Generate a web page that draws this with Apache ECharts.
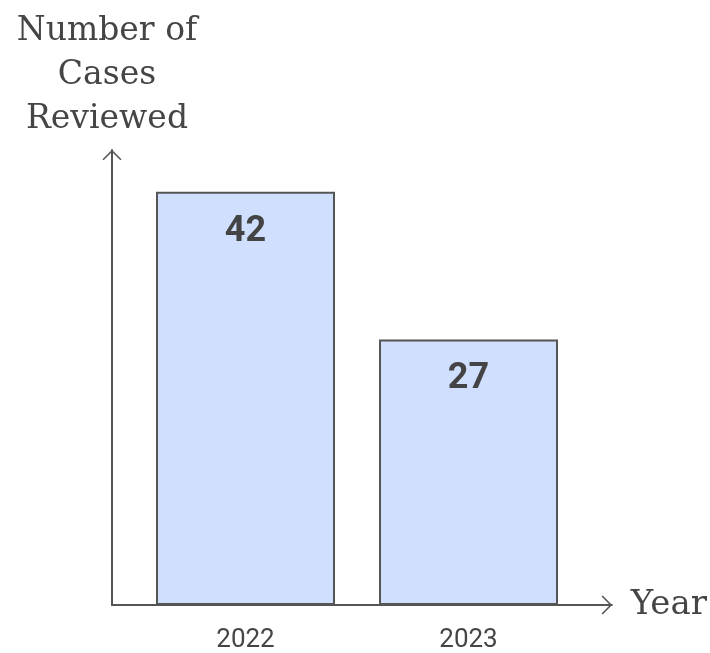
<!DOCTYPE html>
<html>
<head>
<meta charset="utf-8">
<script src="https://cdn.jsdelivr.net/npm/echarts@6/dist/echarts.min.js"></script>
<style>html,body{margin:0;padding:0;background:#fff;}#c{width:710px;height:653px;}</style>
</head>
<body>
<div id="c"></div>
<script>
const categories = ['2022', '2023'];
const casesReviewed = [42, 27];
const yAxisTitle = 'Number of\nCases\nReviewed';
const xAxisTitle = 'Year';

const chart = echarts.init(document.getElementById('c'), null, {renderer: 'canvas'});
const axisColor = '#555555';
const textColor = '#454545';
const chevron = 'path://M9.5 0 L19 9.5 L17.9 10.6 L9.5 2.2 L1.1 10.6 L0 9.5 Z';
const slab = '"DejaVu Serif", serif';
const yMax = 46.25;

chart.setOption({
  animation: false,
  grid: [
    {left: 112, right: 98, top: 150, bottom: 48},
    {left: 134, right: 130, top: 150, bottom: 46}
  ],
  xAxis: [
    {
      gridIndex: 0, type: 'value', min: 0, max: 1,
      axisLine: {show: true, lineStyle: {color: axisColor, width: 2}, symbol: ['none', chevron], symbolSize: [19, 10.6], symbolOffset: [0, -5]},
      axisTick: {show: false}, axisLabel: {show: false}, splitLine: {show: false},
      name: xAxisTitle, nameLocation: 'end', nameGap: 19,
      nameTextStyle: {fontFamily: slab, fontSize: 34, color: textColor, verticalAlign: 'middle', padding: [18, 0, 0, 0]}
    },
    {
      gridIndex: 1, type: 'category', data: categories,
      axisLine: {show: false}, axisTick: {show: false}, splitLine: {show: false},
      axisLabel: {color: textColor, fontFamily: 'Roboto', fontSize: 26, margin: 22}
    }
  ],
  yAxis: [
    {
      gridIndex: 0, type: 'value', min: 0, max: 1,
      axisLine: {show: true, lineStyle: {color: axisColor, width: 2}, symbol: ['none', chevron], symbolSize: [19, 10.6], symbolOffset: [0, -5]},
      axisTick: {show: false}, axisLabel: {show: false}, splitLine: {show: false},
      name: yAxisTitle, nameLocation: 'end', nameGap: 9,
      nameTextStyle: {fontFamily: slab, fontSize: 33, color: textColor, align: 'center', verticalAlign: 'bottom', lineHeight: 44, padding: [0, 10, 0, 0]}
    },
    {
      gridIndex: 1, type: 'value', min: 0, max: yMax,
      axisLine: {show: false}, axisTick: {show: false}, axisLabel: {show: false}, splitLine: {show: false}
    }
  ],
  series: [{
    type: 'bar',
    xAxisIndex: 1, yAxisIndex: 1,
    data: casesReviewed,
    barWidth: 179,
    itemStyle: {color: '#cfdffd', borderColor: axisColor, borderWidth: 2},
    label: {
      show: true, position: 'insideTop', distance: 22,
      fontFamily: 'Roboto', fontWeight: 'bold', fontSize: 36, color: '#444444'
    }
  }]
});
</script>
</body>
</html>
